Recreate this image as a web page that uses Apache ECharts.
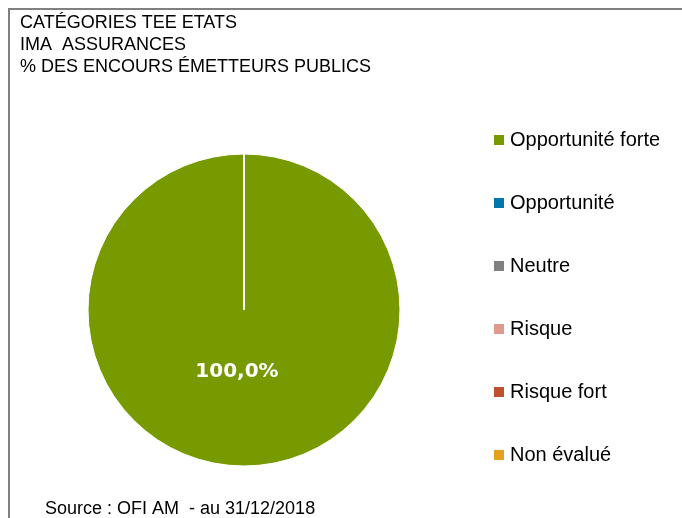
<!DOCTYPE html>
<html>
<head>
<meta charset="utf-8">
<script src="https://cdn.jsdelivr.net/npm/echarts@6/dist/echarts.min.js"></script>
<style>
  html, body { margin: 0; padding: 0; background: #fff; }
  #chart { width: 682px; height: 518px; }
  .frame {
    position: absolute; left: 8px; top: 8px; width: 700px; height: 540px;
    border-left: 2px solid #808080; border-top: 2px solid #808080;
    pointer-events: none;
  }
</style>
</head>
<body>
<div id="chart"></div>
<div class="frame"></div>
<script>
// catégories et valeurs (% des encours)
const categories = ['Opportunité forte', 'Opportunité', 'Neutre', 'Risque', 'Risque fort', 'Non évalué'];
const values = [100, 0, 0, 0, 0, 0];
const colors = ['#779a00', '#0077aa', '#808080', '#e0998a', '#c0502f', '#e3a21a'];
const titleLines = ['CATÉGORIES TEE ETATS', 'IMA  ASSURANCES', '% DES ENCOURS ÉMETTEURS PUBLICS'];
const sourceText = 'Source : OFI AM  - au 31/12/2018';

const chart = echarts.init(document.getElementById('chart'));

const option = {
  animation: false,
  color: colors,
  title: [
    {
      text: titleLines.join('\n'),
      left: 20,
      top: 12,
      padding: 0,
      textStyle: {
        fontFamily: 'Liberation Sans',
        fontSize: 18,
        fontWeight: 'normal',
        color: '#000',
        lineHeight: 22
      }
    },
    {
      text: sourceText,
      left: 45,
      top: 500,
      padding: 0,
      textStyle: {
        fontFamily: 'Liberation Sans',
        fontSize: 18,
        fontWeight: 'normal',
        color: '#000'
      }
    }
  ],
  legend: {
    orient: 'vertical',
    left: 494,
    top: 130,
    padding: 0,
    itemWidth: 10,
    itemHeight: 10,
    itemGap: 43,
    icon: 'rect',
    itemStyle: { borderWidth: 0 },
    textStyle: {
      fontFamily: 'Liberation Sans',
      fontSize: 20,
      color: '#000',
      padding: [0, 0, 0, 1]
    },
    data: categories
  },
  series: [
    {
      type: 'pie',
      center: [244, 310],
      radius: 156,
      startAngle: 90,
      clockwise: true,
      itemStyle: { borderColor: '#fff', borderWidth: 1 },
      label: { show: false },
      labelLine: { show: false },
      emphasis: { disabled: true },
      data: categories.map((name, i) => ({
        name: name,
        value: values[i],
        label: i === 0 ? {
          show: true,
          position: 'center',
          offset: [-7, 62],
          formatter: (p) => p.percent.toFixed(1).replace('.', ',') + '%',
          color: '#fff',
          fontFamily: 'DejaVu Sans',
          fontSize: 20,
          fontWeight: 'bold'
        } : { show: false }
      }))
    }
  ]
};

chart.setOption(option);
</script>
</body>
</html>
